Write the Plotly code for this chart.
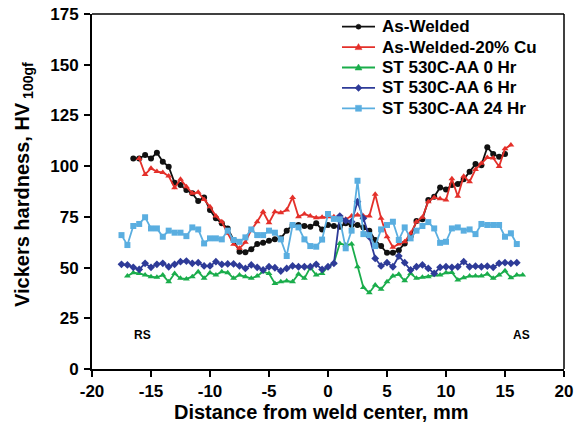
import plotly.graph_objects as go

# ---- data ----
x_aw = [-16.5 + 0.5 * i for i in range(64)]
y_aw = [103.8, 103.8, 105.5, 103.8, 106.6, 102.2, 99.7, 91.8, 90.7, 88.2,
        86.6, 82.8, 84.6, 78.4, 74.3, 71.8, 69.3, 63.6, 57.8, 57.5,
        59.0, 61.6, 62.2, 63.2, 63.9, 64.4, 68.2, 71.0, 71.0, 70.5,
        70.1, 71.8, 68.8, 71.0, 70.5, 70.1, 71.8, 71.0, 71.0, 69.8,
        68.2, 63.6, 60.6, 57.3, 57.3, 58.6, 61.9, 65.5, 72.9, 73.8,
        83.3, 84.9, 89.5, 88.5, 90.7, 91.2, 93.5, 97.2, 101.0, 100.5,
        109.3, 106.0, 104.6, 106.0]

x_cu = [-16.0 + 0.5 * i for i in range(64)]
y_cu = [103.8, 95.9, 98.9, 97.3, 96.9, 95.1, 89.4, 93.5, 89.9, 86.6,
        87.1, 83.6, 80.0, 75.4, 72.6, 66.9, 61.5, 59.5, 62.5, 68.6,
        72.6, 77.5, 72.1, 77.5, 77.0, 78.4, 84.6, 75.1, 76.4, 75.4,
        74.6, 74.8, 75.1, 75.1, 74.8, 73.8, 75.4, 75.9, 75.4, 75.4,
        86.1, 74.3, 65.2, 60.0, 61.6, 62.7, 66.9, 72.6, 74.8, 82.5,
        84.5, 83.9, 83.3, 93.8, 85.1, 95.0, 92.3, 98.4, 101.4, 104.2,
        104.0, 99.8, 108.6, 110.4]

x_0h = [-17.0 + 0.5 * i for i in range(68)]
y_0h = [45.8, 47.5, 47.1, 46.3, 45.5, 45.2, 46.3, 43.0, 47.1, 44.7,
        44.4, 45.5, 48.0, 44.7, 47.5, 46.3, 48.0, 47.5, 44.7, 46.3,
        45.5, 44.7, 45.8, 48.0, 47.1, 42.2, 43.0, 43.4, 43.0, 46.8,
        44.7, 50.1, 46.3, 47.1, 50.4, 52.3, 61.9, 61.1, 61.6, 50.4,
        40.2, 37.6, 41.4, 39.3, 43.0, 45.8, 46.7, 43.5, 47.1, 44.7,
        45.2, 45.5, 46.3, 46.3, 47.5, 47.6, 43.9, 45.0, 45.8, 45.8,
        45.8, 46.8, 44.7, 46.3, 48.4, 45.0, 46.3, 46.3]

x_6h = [-17.5 + 0.5 * i for i in range(68)]
y_6h = [51.6, 51.3, 50.1, 49.1, 52.1, 50.1, 51.6, 52.1, 50.4, 51.6,
        52.9, 53.2, 52.1, 52.4, 50.8, 50.8, 52.9, 51.6, 51.8, 51.8,
        50.8, 49.6, 51.3, 50.1, 48.8, 50.4, 49.9, 48.3, 49.6, 50.8,
        50.4, 50.4, 50.4, 51.6, 49.1, 50.4, 52.1, 75.4, 73.1, 72.6,
        82.5, 74.3, 65.2, 54.5, 50.8, 52.4, 50.4, 55.7, 52.4, 48.8,
        50.4, 51.3, 49.6, 47.1, 50.1, 50.4, 50.1, 50.4, 52.9, 50.4,
        50.7, 50.4, 50.7, 50.1, 52.1, 52.4, 52.1, 52.4]

x_24h = [-17.5 + 0.5 * i for i in range(68)]
y_24h = [66.0, 61.1, 70.5, 71.5, 74.8, 69.3, 69.3, 65.2, 68.2, 67.2,
         67.2, 65.5, 69.8, 68.8, 61.9, 64.4, 64.4, 63.9, 68.2, 63.6,
         62.7, 64.9, 68.8, 66.0, 66.0, 68.2, 67.2, 63.9, 55.7, 71.0,
         69.8, 63.9, 60.6, 60.3, 63.8, 76.4, 74.0, 73.8, 59.5, 68.2,
         92.8, 66.5, 66.0, 60.6, 68.8, 71.0, 72.6, 63.6, 69.8, 64.4,
         68.2, 70.5, 72.4, 69.3, 62.2, 62.7, 69.3, 69.8, 68.2, 68.8,
         66.5, 71.5, 71.0, 71.0, 71.0, 65.2, 66.9, 61.6]

names = ["As-Welded", "As-Welded-20% Cu", "ST 530C-AA 0 Hr",
         "ST 530C-AA 6 Hr", "ST 530C-AA 24 Hr"]
x_ticks = [-20, -15, -10, -5, 0, 5, 10, 15, 20]
y_ticks = [0, 25, 50, 75, 100, 125, 150, 175]

colors = ["#111111", "#e4302a", "#1aad4b", "#2e3b98", "#5aaee0"]
symbols = ["circle", "triangle-up", "triangle-up", "diamond", "square"]
xs_all = [x_aw, x_cu, x_0h, x_6h, x_24h]
ys_all = [y_aw, y_cu, y_0h, y_6h, y_24h]

W, H = 576, 429
ML, MR, MT, MB = 92, 12, 14, 60
PW, PH = W - ML - MR, H - MT - MB


def px2paper(xp, yp):
    return (xp - ML) / PW, (H - MB - yp) / PH


fig = go.Figure()
for xs, ys, col, sym, nm in zip(xs_all, ys_all, colors, symbols, names):
    fig.add_trace(go.Scatter(
        x=xs, y=ys, name=nm, mode="lines+markers",
        line=dict(color=col, width=1.8),
        marker=dict(color=col, symbol=sym, size=6),
        showlegend=False,
    ))

font = "Arial, Liberation Sans, sans-serif"

fig.update_layout(
    width=W, height=H,
    margin=dict(l=ML, r=MR, t=MT, b=MB),
    paper_bgcolor="white", plot_bgcolor="white",
    font=dict(family=font, color="black"),
    showlegend=False,
    xaxis=dict(
        range=[-20, 20], tickvals=x_ticks, ticktext=[str(v) for v in x_ticks],
        showgrid=False, zeroline=False, automargin=False,
        showline=True, linecolor="black", linewidth=2,
        ticks="outside", ticklen=6, tickwidth=2, tickcolor="black",
        tickfont=dict(size=17, family=font, weight="bold"),
    ),
    yaxis=dict(
        range=[0, 175], tickvals=y_ticks, ticktext=[str(v) for v in y_ticks],
        showgrid=False, zeroline=False, automargin=False,
        showline=True, linecolor="black", linewidth=2,
        ticks="outside", ticklen=6, tickwidth=2, tickcolor="black",
        ticklabelstandoff=2,
        tickfont=dict(size=17, family=font, weight="bold"),
    ),
)

# frame top and right
fig.add_shape(type="line", xref="paper", yref="paper", x0=0, x1=1, y0=1, y1=1,
              line=dict(color="black", width=1.5))
fig.add_shape(type="line", xref="paper", yref="paper", x0=1, x1=1, y0=0, y1=1,
              line=dict(color="black", width=1.5))

# axis titles
tx, ty = px2paper(321, 412)
fig.add_annotation(xref="paper", yref="paper", x=tx, y=ty,
                   text="Distance from weld center, mm", showarrow=False,
                   xanchor="center", yanchor="middle",
                   font=dict(size=20, family=font, weight="bold"))
tx, ty = px2paper(23, 185)
fig.add_annotation(xref="paper", yref="paper", x=tx, y=ty, textangle=-90,
                   text="Vickers hardness, HV<sub> 100gf</sub>", showarrow=False,
                   xanchor="center", yanchor="middle",
                   font=dict(size=20, family=font, weight="bold"))

# RS / AS labels
fig.add_annotation(x=-15.7, y=16.8, text="RS", showarrow=False,
                   font=dict(size=12, family=font, weight="bold"))
fig.add_annotation(x=16.4, y=16.8, text="AS", showarrow=False,
                   font=dict(size=12, family=font, weight="bold"))

# legend drawn manually
dia = "M 0 -3.5 L 3.5 0 L 0 3.5 L -3.5 0 Z"
for i, (nm, col, sym) in enumerate(zip(names, colors, symbols)):
    yp = 26.7 + 20.4 * i
    x0, y0 = px2paper(342, yp)
    x1, _ = px2paper(375, yp)
    xm, _ = px2paper(358.5, yp)
    fig.add_shape(type="line", xref="paper", yref="paper",
                  x0=x0, x1=x1, y0=y0, y1=y0,
                  line=dict(color=col, width=1.8))
    common = dict(xref="paper", yref="paper", xsizemode="pixel",
                  ysizemode="pixel", xanchor=xm, yanchor=y0,
                  fillcolor=col, line=dict(color=col, width=0.5))
    if sym == "circle":
        fig.add_shape(type="circle", x0=-2.5, x1=2.5, y0=-2.5, y1=2.5, **common)
    elif sym == "square":
        fig.add_shape(type="rect", x0=-3, x1=3, y0=-3, y1=3, **common)
    elif sym == "diamond":
        fig.add_shape(type="path", path=dia, **common)
    else:
        fig.add_shape(type="path", path="M -3.5 -2.5 L 3.5 -2.5 L 0 3.5 Z", **common)
    lx, ly = px2paper(380, yp)
    fig.add_annotation(xref="paper", yref="paper", x=lx, y=ly, text=nm,
                       showarrow=False, xanchor="left", yanchor="middle",
                       font=dict(size=17, family=font, weight="bold"))

fig.write_html("out.html",
               config={"displayModeBar": False},
               post_script="document.body.style.margin='0';"
                           "document.body.style.padding='0';")
